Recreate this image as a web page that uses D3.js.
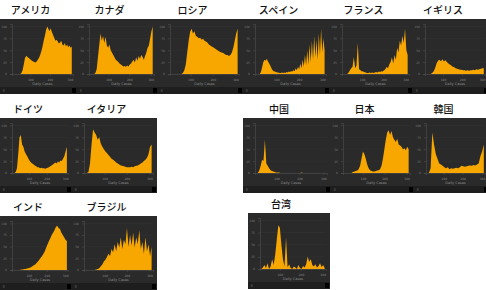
<!DOCTYPE html>
<html>
<head>
<meta charset="utf-8">
<script src="https://cdn.jsdelivr.net/npm/d3@7"></script>
<style>
  body { margin: 0; background: #fff; }
  svg { display: block; }
  .title { font-family: "Noto Sans CJK JP", "Noto Sans", sans-serif; font-size: 10px; font-weight: 500; fill: #111; }
  .tick text { font-family: "DejaVu Sans", sans-serif; }
</style>
</head>
<body>
<div id="chart"></div>
<script>
// values, as % of each panel's y range
var usCases = [0,0,0,0,0,0,0,2,8,20,33,38,36,34,32,30,28,26,25,24,26,30,34,40,48,58,70,80,92,100,95,90,96,88,82,76,70,72,68,64,66,70,62,60,65,58,62,56,60,55,58];
var caCases = [0,0,0,0,2,10,35,60,85,70,80,65,78,60,55,62,50,45,40,35,30,28,25,22,20,18,16,17,15,18,16,20,22,26,30,24,35,28,38,32,40,36,30,38,45,55,60,75,90,100];
var ruCases = [0,0,0,0,0,0,0,0,2,8,20,45,70,88,95,85,90,80,78,75,76,72,74,70,68,66,62,60,58,56,54,52,50,48,46,45,44,42,40,40,38,40,45,55,70,85,95];
var esCases = [0,0,0,0,5,15,25,30,28,32,26,22,18,12,8,6,5,4,3,3,2,2,3,2,3,2,4,3,5,4,6,5,8,6,12,8,15,10,22,12,30,15,40,18,50,20,62,25,70,30,80,35,72,30,85,40,95,45,75,50];
var frCases = [0,0,0,0,3,8,12,15,35,12,18,65,10,8,6,5,4,3,2,2,3,2,3,2,3,4,3,5,4,6,5,8,10,15,12,20,25,35,22,40,30,55,45,70,60,80,65,95,50,40];
var ukCases = [0,0,0,0,2,5,12,22,28,30,27,31,26,29,25,22,20,18,15,14,12,11,10,9,9,8,8,7,8,7,8,8,9,8,10,9,10,11,12,12];
var deCases = [0,0,2,10,40,75,80,60,55,45,40,35,30,25,22,20,18,16,14,12,12,10,11,10,10,9,10,11,12,14,16,18,20,22,20,24,22,26,25,30,35,45,55];
var itCases = [0,0,2,20,60,92,85,80,70,75,62,55,50,45,42,38,34,30,28,25,22,20,18,16,15,14,13,12,12,12,13,12,14,15,16,18,20,22,25,28,32,40,55,60];
var cnCases = [0,0,5,15,28,25,70,20,15,10,6,4,3,2,1,1,1,0,0,0,0,0,0,0,0,0,0,0,0,0,0,0,1,0,0,0,0,0,0,0,0,0,0,0,0,0,0,0,0,0];
var jpCases = [0,0,0,0,0,0,2,3,4,5,8,15,30,45,40,30,18,10,6,4,3,3,4,5,6,8,15,30,50,70,85,90,80,88,75,70,65,72,60,58,55,50,52,48,55,50];
var krCases = [0,0,10,85,60,40,30,20,18,15,12,10,12,8,10,9,10,11,10,12,15,14,13,14,15,16,15,17,16,18,20,35,45,60];
var inCases = [0,0,0,0,0,0,1,1,2,2,3,4,5,6,8,10,12,15,18,22,26,30,35,40,48,55,62,68,75,80,85,92,95,90,88,80,75,70,65,62];
var brCases = [0,0,0,0,0,0,0,1,2,4,8,12,18,22,28,35,30,45,38,55,40,60,48,70,45,65,55,90,50,75,52,80,48,70,55,85,45,60,35,70,40,55,30,50];
var twCases = [0,3,8,2,12,0,5,20,8,30,60,90,85,50,20,5,65,3,10,2,0,5,3,0,8,2,0,6,3,10,25,15,20,8,5,10,3,6,12,4,8,2];

var countryNames = ["アメリカ","カナダ","ロシア","スペイン","フランス","イギリス","ドイツ","イタリア","中国","日本","韓国","インド","ブラジル","台湾"];
var seriesList = [usCases,caCases,ruCases,esCases,frCases,ukCases,deCases,itCases,cnCases,jpCases,krCases,inCases,brCases,twCases];
var yTickLabels = [0,25,50,75,100];
var xTickValues = [0.3,0.62,0.95];
var xTickLabels = ["100","200","300"];

// panel boxes [x, y, w, h]
var boxes = [
  [0,19,77,75],[77,19,81,75],[158,19,85,75],[243,19,87,75],[330,19,83,75],[413,19,76,75],
  [0,118,72,75],[72,118,85,75],
  [243,118,88,75],[331,118,83,75],[414,118,75,75],
  [0,216,72,74],[72,216,85,74],
  [248,213,82,76]
];

var orange = "#f7a700";
var svg = d3.select("#chart").append("svg").attr("width",486).attr("height",290);

seriesList.forEach(function(data, k) {
  var b = boxes[k];
  var g = svg.append("g").attr("transform","translate(" + b[0] + "," + b[1] + ")");
  var margin = {top: 5, right: 4, bottom: 14, left: 12};
  var w = b[2] - margin.left - margin.right;
  var h = b[3] - margin.top - margin.bottom - 6;

  g.append("rect").attr("width", b[2]).attr("height", b[3]).attr("fill","#2a2a2a");
  g.append("rect").attr("y", b[3]-7).attr("width", b[2]).attr("height", 7).attr("fill","#1e1e1e");
  g.append("rect").attr("x", b[2]-5).attr("y", b[3]-6).attr("width", 4).attr("height", 5).attr("fill","#000");

  var plot = g.append("g").attr("transform","translate(" + margin.left + "," + margin.top + ")");
  var x = d3.scaleLinear().domain([0,1]).range([0,w]);
  var y = d3.scaleLinear().domain([0,105]).range([h,0]);

  // gridlines
  plot.selectAll("line.grid").data(yTickLabels).enter().append("line")
    .attr("x1",0).attr("x2",w)
    .attr("y1",function(d){ return y(d); }).attr("y2",function(d){ return y(d); })
    .attr("stroke","#363636").attr("stroke-width",0.5);

  var area = d3.area()
    .x(function(d,i){ return x(0.02 + 0.96*i/(data.length-1)); })
    .y0(h)
    .y1(function(d){ return y(d); });
  plot.append("path").datum(data).attr("d", area).attr("fill", orange);

  var yAxis = plot.append("g").call(d3.axisLeft(y).tickValues(yTickLabels).tickSize(2));
  yAxis.selectAll("text").attr("font-size",3).attr("fill","#777");
  yAxis.selectAll("line, path").attr("stroke","#555").attr("stroke-width",0.5);

  var xAxis = plot.append("g").attr("transform","translate(0," + h + ")")
    .call(d3.axisBottom(x).tickValues(xTickValues).tickFormat(function(d,i){ return xTickLabels[i]; }).tickSize(2));
  xAxis.selectAll("text").attr("font-size",3).attr("fill","#888");
  xAxis.selectAll("line, path").attr("stroke","#555").attr("stroke-width",0.5);

  g.append("text").attr("x", margin.left + w/2).attr("y", b[3]-9)
    .attr("text-anchor","middle").attr("font-size",3.5).attr("fill","#888")
    .attr("font-family","DejaVu Sans").text("Daily Cases");
  g.append("text").attr("x", 3).attr("y", b[3]-2).attr("font-size",3).attr("fill","#888").text("0");

  svg.append("text").attr("class","title")
    .attr("x", b[0] + b[2]/2 - 8).attr("y", b[1] - 5)
    .attr("text-anchor","middle").text(countryNames[k]);
});
</script>
</body>
</html>
